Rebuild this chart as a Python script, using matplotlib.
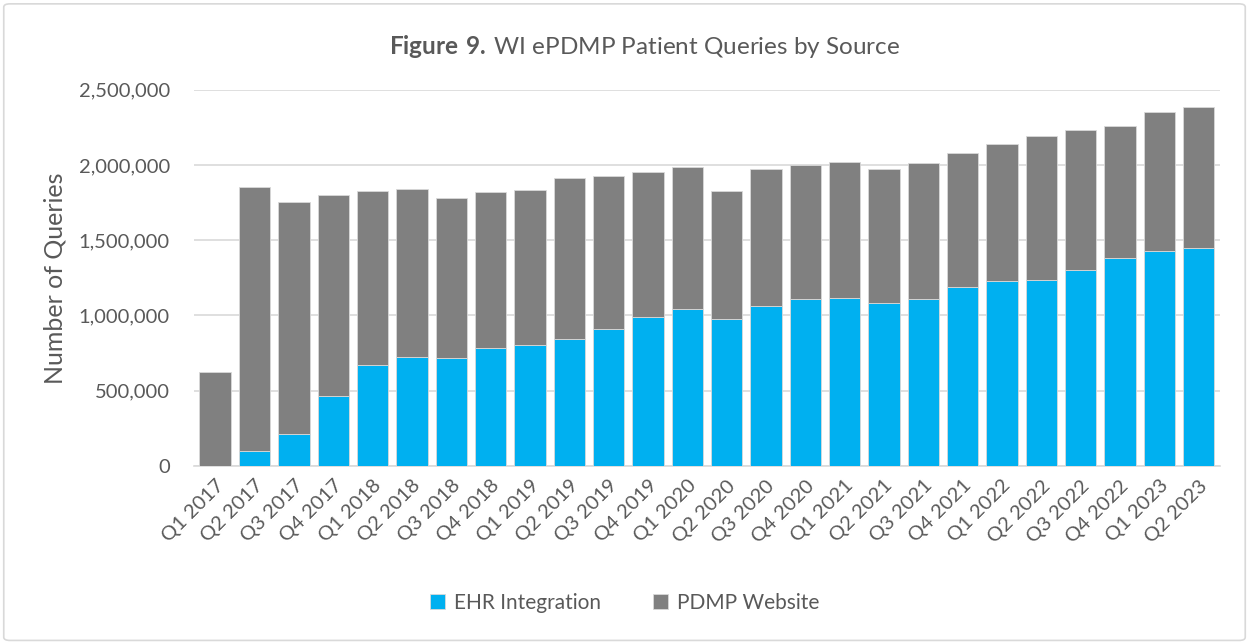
import numpy as np
import matplotlib.pyplot as plt
from matplotlib.patches import FancyBboxPatch
from matplotlib.ticker import FuncFormatter

plt.rcParams['font.family'] = ['Lato', 'DejaVu Sans']
plt.rcParams['mathtext.fontset'] = 'custom'
plt.rcParams['mathtext.bf'] = 'Lato:bold'
plt.rcParams['mathtext.rm'] = 'Lato'

# trimestres
quarters = ["Q1 2017", "Q2 2017", "Q3 2017", "Q4 2017",
            "Q1 2018", "Q2 2018", "Q3 2018", "Q4 2018",
            "Q1 2019", "Q2 2019", "Q3 2019", "Q4 2019",
            "Q1 2020", "Q2 2020", "Q3 2020", "Q4 2020",
            "Q1 2021", "Q2 2021", "Q3 2021", "Q4 2021",
            "Q1 2022", "Q2 2022", "Q3 2022", "Q4 2022",
            "Q1 2023", "Q2 2023"]

# consultas por integracion EHR
ehr = [0, 97000, 212000, 465000,
       668000, 723000, 715000, 781000,
       801000, 841000, 911000, 989000,
       1040000, 976000, 1064000, 1111000,
       1113000, 1080000, 1106000, 1190000,
       1226000, 1232000, 1305000, 1383000,
       1429000, 1449000]

# total de consultas (EHR + sitio web)
total = [622000, 1850000, 1754000, 1803000,
         1825000, 1838000, 1783000, 1819000,
         1832000, 1914000, 1927000, 1956000,
         1989000, 1825000, 1973000, 1998000,
         2022000, 1971000, 2013000, 2082000,
         2139000, 2190000, 2232000, 2259000,
         2354000, 2383000]

pdmp = [t - e for t, e in zip(total, ehr)]

color_ehr = "#00B0F0"
color_pdmp = "#808080"
text_color = "#595959"

fig = plt.figure(figsize=(12.49, 6.43), dpi=100)
ax = fig.add_axes([0.155, 0.2755, 0.822, 0.585])

x = np.arange(len(quarters))
ax.bar(x, ehr, width=0.8, color=color_ehr, edgecolor="#D9D9D9", linewidth=0.6,
       label="EHR Integration", zorder=3)
ax.bar(x, pdmp, width=0.8, bottom=ehr, color=color_pdmp, edgecolor="#D9D9D9",
       linewidth=0.6, label="PDMP Website", zorder=3)

ax.set_xlim(-0.55, len(quarters) - 0.45)
ax.set_ylim(0, 2500000)
ax.set_yticks(np.arange(0, 2500001, 500000))
ax.yaxis.set_major_formatter(FuncFormatter(lambda v, p: f"{int(v):,}"))
ax.grid(axis="y", color="#D9D9D9", linewidth=1.2, zorder=0)

ax.set_xticks(x)
ax.set_xticklabels(quarters, rotation=45, ha="right", rotation_mode="anchor")
ax.tick_params(axis="both", length=0, labelsize=14.5, colors=text_color)
ax.tick_params(axis="x", pad=8)
ax.tick_params(axis="y", pad=17)

for s in ["top", "right", "left"]:
    ax.spines[s].set_visible(False)
ax.spines["bottom"].set_color("#D9D9D9")
ax.spines["bottom"].set_linewidth(1.2)

ax.set_ylabel("Number of Queries", fontsize=18, color=text_color, labelpad=9)

fig.text(0.516, 0.927, r"$\bf{Figure\ 9.}\,$WI ePDMP Patient Queries by Source",
         ha="center", va="center", fontsize=17.5, color=text_color)

leg = fig.legend(loc="center", bbox_to_anchor=(0.5, 0.062), ncol=2, frameon=False,
                 fontsize=15, handlelength=0.75, handleheight=0.75,
                 columnspacing=2.5, handletextpad=0.4)
for t in leg.get_texts():
    t.set_color(text_color)

border = FancyBboxPatch((0.003, 0.004), 0.994, 0.99, boxstyle="round,pad=0,rounding_size=0.005",
                        transform=fig.transFigure, fill=False, edgecolor="#D9D9D9", linewidth=1.2)
fig.patches.append(border)

fig.savefig("out.png", dpi=100)
